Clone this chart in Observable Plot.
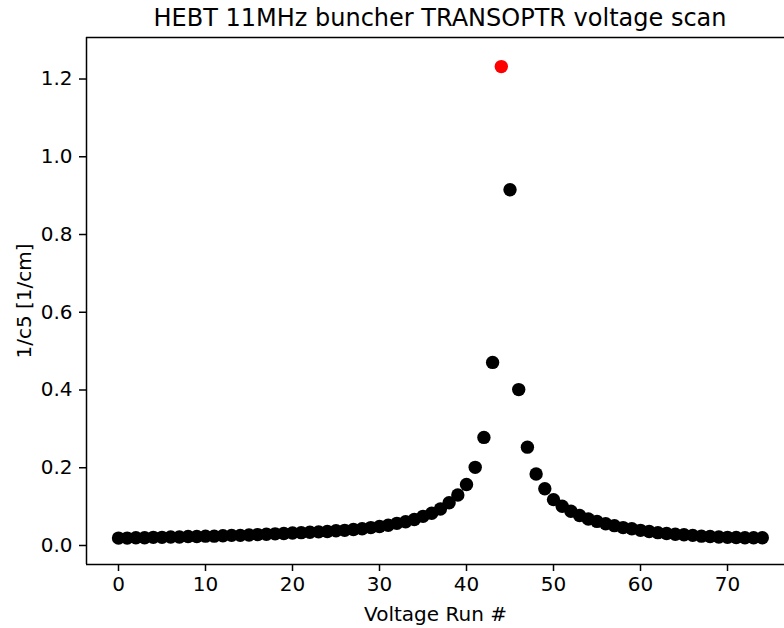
<!DOCTYPE html>
<html>
<head>
<meta charset="utf-8">
<script src="https://cdn.jsdelivr.net/npm/d3@7"></script>
<script src="https://cdn.jsdelivr.net/npm/@observablehq/plot@0.6"></script>
<style>
  html, body { margin: 0; padding: 0; background: #fff; overflow: hidden; }
  #title { height: 36px; line-height: 36px; font-family: "DejaVu Sans", sans-serif; font-size: 24px; color: #000; width: 688px; padding-left: 96px; text-align: center; white-space: nowrap; }
</style>
</head>
<body>
<div id="title">HEBT 11MHz buncher TRANSOPTR voltage scan</div>
<div id="chart"></div>
<script>
// 1/c5 [1/cm] for each voltage run (run # = index)
const invC5 = [
  0.019, 0.019, 0.020, 0.020, 0.021, 0.021, 0.022, 0.022, 0.023, 0.023,
  0.024, 0.024, 0.025, 0.026, 0.026, 0.027, 0.028, 0.029, 0.030, 0.031,
  0.032, 0.033, 0.034, 0.035, 0.036, 0.038, 0.039, 0.041, 0.043, 0.046,
  0.049, 0.052, 0.057, 0.061, 0.067, 0.075, 0.083, 0.094, 0.110, 0.130,
  0.157, 0.201, 0.278, 0.471, 1.232, 0.915, 0.401, 0.253, 0.184, 0.146,
  0.118, 0.101, 0.088, 0.077, 0.068, 0.062, 0.056, 0.051, 0.046, 0.043,
  0.039, 0.036, 0.033, 0.031, 0.029, 0.0275, 0.026, 0.024, 0.023, 0.022,
  0.021, 0.0205, 0.020, 0.020, 0.020
];
const peakRun = 44;
const xTicks = [0, 10, 20, 30, 40, 50, 60, 70];
const yTicks = [0.0, 0.2, 0.4, 0.6, 0.8, 1.0, 1.2];
const xDomain = [-3.678, 76.55];
const yDomain = [-0.0489, 1.3068];

const table = invC5.map((v, i) => ({run: i, value: v, peak: i === peakRun}));

const chart = Plot.plot({
  width: 784,
  height: 592,
  marginTop: 1,
  marginBottom: 64,
  marginLeft: 86,
  marginRight: 0,
  style: {fontFamily: "DejaVu Sans, sans-serif", fontSize: "20px", color: "#000", background: "#fff", overflow: "visible"},
  x: {domain: xDomain},
  y: {domain: yDomain},
  marks: [
    Plot.ruleX([xDomain[0]], {stroke: "#000", strokeWidth: 1.5}),
    Plot.ruleY([yDomain[0], yDomain[1]], {stroke: "#000", strokeWidth: 1.5}),
    Plot.axisX({ticks: xTicks, tickSize: 7, tickPadding: 5, tickFormat: d => String(d), strokeWidth: 1.5,
      label: "Voltage Run #", labelAnchor: "center", labelOffset: 56, labelArrow: "none"}),
    Plot.axisY({ticks: yTicks, tickSize: 7, tickPadding: 7, tickFormat: d3.format(".1f"), strokeWidth: 1.5,
      label: "1/c5 [1/cm]", labelAnchor: "center", labelOffset: 70, labelArrow: "none"}),
    Plot.dot(table, {x: "run", y: "value", r: 6.7, fill: d => d.peak ? "#ff0000" : "#000000", stroke: null})
  ]
});
document.getElementById("chart").appendChild(chart);
</script>
</body>
</html>
